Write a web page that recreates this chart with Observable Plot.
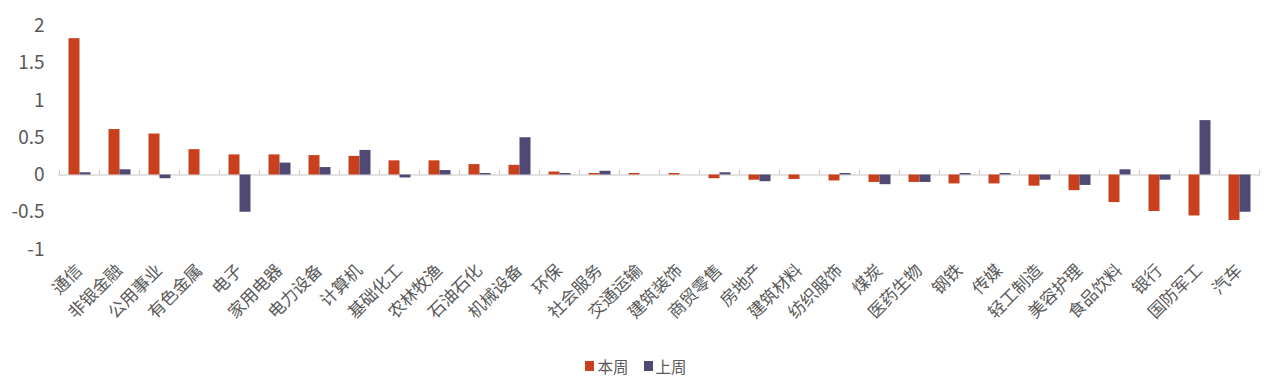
<!DOCTYPE html>
<html><head><meta charset="utf-8">
<script src="https://cdn.jsdelivr.net/npm/d3@7"></script>
<script src="https://cdn.jsdelivr.net/npm/@observablehq/plot@0.6"></script>
<style>
body{margin:0;background:#fff;font-family:"Noto Sans CJK SC",sans-serif;}
#legend{display:flex;justify-content:center;gap:15px;margin-top:11px;font-size:15.5px;color:#595959;line-height:20px;}
.item{display:flex;align-items:center;gap:3px;}
.sw{width:9px;height:10px;display:inline-block;}
</style></head><body><div id="chart"></div><div id="legend"></div>
<script>
const categories = ["通信","非银金融","公用事业","有色金属","电子","家用电器","电力设备","计算机","基础化工","农林牧渔","石油石化","机械设备","环保","社会服务","交通运输","建筑装饰","商贸零售","房地产","建筑材料","纺织服饰","煤炭","医药生物","钢铁","传媒","轻工制造","美容护理","食品饮料","银行","国防军工","汽车"];
const thisWeek = [1.83,0.61,0.55,0.34,0.27,0.27,0.26,0.25,0.19,0.19,0.14,0.13,0.04,0.02,0.02,0.02,-0.05,-0.07,-0.06,-0.08,-0.1,-0.1,-0.12,-0.12,-0.15,-0.21,-0.37,-0.49,-0.55,-0.61];
const lastWeek = [0.03,0.07,-0.05,0,-0.5,0.16,0.1,0.33,-0.04,0.06,0.02,0.5,0.02,0.05,0,0,0.03,-0.09,0,0.02,-0.13,-0.1,0.02,0.02,-0.07,-0.14,0.07,-0.07,0.73,-0.5];
const yTicks = [-1,-0.5,0,0.5,1,1.5,2];
const seriesNames = ["本周","上周"];
const colors = ["#C9401C","#4F4A74"];

const rows = categories.map((c,i)=>({cat:c, a:thisWeek[i], b:lastWeek[i]}));
const lastCat = categories[categories.length-1];
const font = '"Noto Sans CJK SC", sans-serif';
const plot = Plot.plot({
  width:1272, height:345, marginLeft:58, marginRight:12, marginTop:25.5, marginBottom:96,
  style:{fontFamily:font, color:"#595959", background:"#fff", overflow:"visible"},
  x:{domain:categories, padding:0, label:null},
  y:{domain:[-1,2], label:null},
  marks:[
    Plot.ruleY([0], {stroke:"#D9D9D9", strokeWidth:1.5}),
    Plot.ruleX(categories, {x:d=>d, y1:0, y2:0.07, dx:-20.03, stroke:"#D0D0D0", strokeWidth:1.2}),
    Plot.ruleX([lastCat], {x:d=>d, y1:0, y2:0.07, dx:20.03, stroke:"#D0D0D0", strokeWidth:1.2}),
    Plot.barY(rows, {x:"cat", y:"a", fill:colors[0], insetLeft:9.5, insetRight:19.5}),
    Plot.barY(rows, {x:"cat", y:"b", fill:colors[1], insetLeft:20.5, insetRight:8.5}),
    Plot.axisX({tickRotate:-45, tickSize:0, tickPadding:18, fontSize:17, fill:"#595959", label:null}),
    Plot.axisY({ticks:yTicks, tickSize:0, tickPadding:14, tickFormat:d=>String(d), fontSize:19, fill:"#595959", label:null})
  ]
});
document.getElementById("chart").appendChild(plot);
const lg = document.getElementById("legend");
seriesNames.forEach((n,i)=>{
  const it = document.createElement("span"); it.className="item";
  const sw = document.createElement("span"); sw.className="sw"; sw.style.background=colors[i];
  const t = document.createElement("span"); t.textContent=n;
  it.appendChild(sw); it.appendChild(t); lg.appendChild(it);
});
</script></body></html>
